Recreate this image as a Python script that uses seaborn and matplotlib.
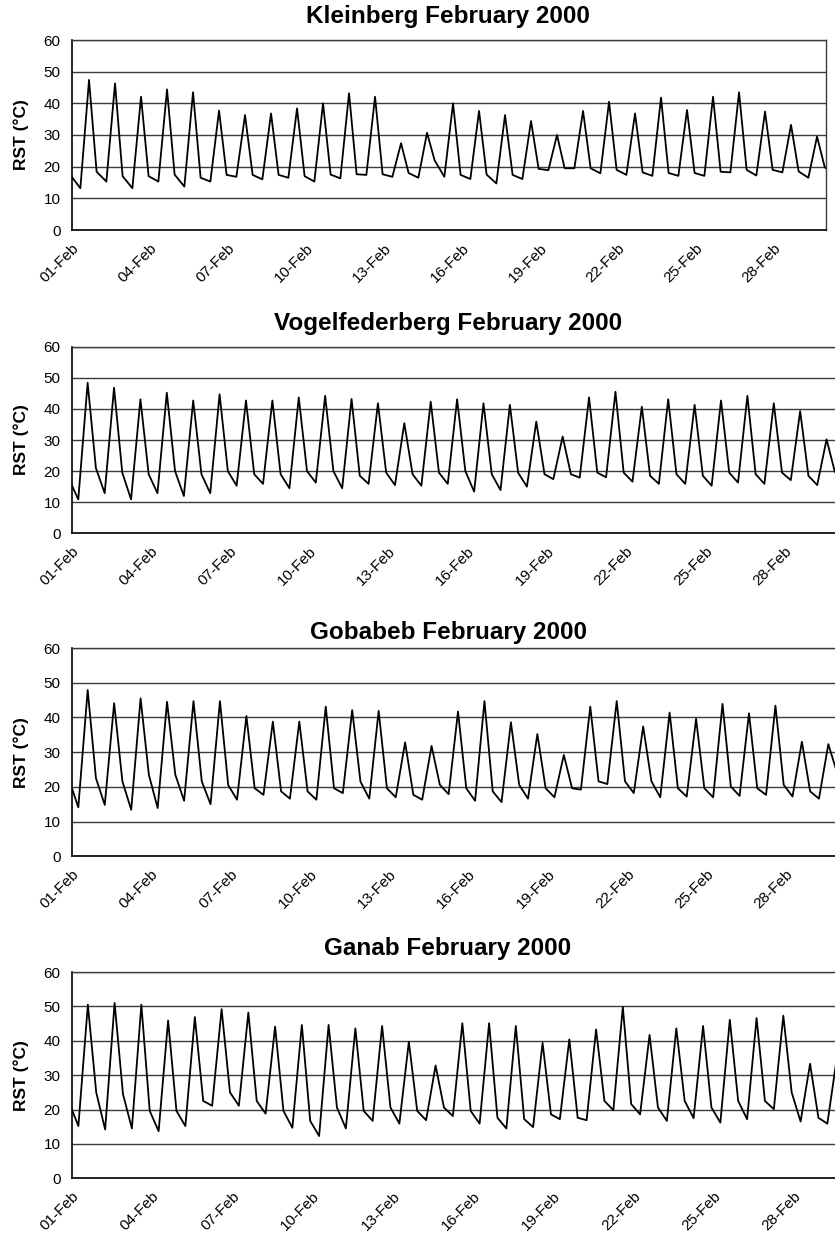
import numpy as np
import pandas as pd
import matplotlib
matplotlib.use("Agg")
import matplotlib.pyplot as plt
import matplotlib.dates as mdates
import seaborn as sns

# ---------------- data ----------------
sites = ["Kleinberg", "Vogelfederberg", "Gobabeb", "Ganab"]
tick_days = [1, 4, 7, 10, 13, 16, 19, 22, 25, 28]

# daily morning minimum, afternoon peak and late-evening value (deg C), 1..29 Feb 2000
kleinberg_min = [13.2, 15.3, 13.2, 15.3, 13.7, 15.3, 16.8, 16.0, 16.5, 15.3, 16.3, 17.4, 16.8, 16.5, 16.8,
                 16.1, 14.7, 16.1, 18.9, 19.5, 17.9, 17.4, 17.1, 17.1, 17.1, 18.2, 17.2, 18.2, 16.5]
kleinberg_peak = [47.4, 46.3, 42.1, 44.4, 43.5, 37.7, 36.3, 36.8, 38.4, 40.0, 43.2, 42.1, 27.4, 30.7, 40.0,
                  37.6, 36.3, 34.4, 30.0, 37.6, 40.5, 36.8, 41.8, 37.9, 42.1, 43.5, 37.4, 33.2, 29.5]
kleinberg_eve = [18.4, 17.0, 17.0, 17.5, 16.5, 17.4, 17.4, 17.4, 17.0, 17.5, 17.6, 17.6, 18.0, 22.0, 17.4,
                 17.5, 17.4, 19.3, 19.5, 19.5, 19.0, 18.2, 18.0, 18.0, 18.4, 19.0, 19.0, 18.5, 20.0]

vogel_min = [10.9, 12.9, 10.9, 12.9, 12.0, 12.9, 15.3, 15.9, 14.5, 16.3, 14.5, 15.9, 15.5, 15.3, 15.9,
             13.4, 13.9, 15.0, 17.4, 17.9, 18.0, 16.6, 15.9, 15.9, 15.3, 16.3, 15.9, 17.1, 15.5]
vogel_peak = [48.4, 46.8, 43.1, 45.2, 42.7, 44.7, 42.7, 42.7, 43.7, 44.2, 43.2, 41.8, 35.4, 42.3, 43.1,
              41.8, 41.3, 35.9, 31.1, 43.7, 45.5, 40.7, 43.1, 41.3, 42.7, 44.2, 41.8, 39.3, 30.2]
vogel_eve = [21.0, 19.5, 19.0, 20.0, 19.0, 20.0, 19.0, 19.0, 20.0, 20.0, 18.5, 19.5, 19.0, 19.5, 20.0,
             19.0, 19.5, 19.0, 19.0, 19.5, 19.5, 18.5, 19.0, 18.5, 19.5, 19.0, 19.5, 18.5, 19.8]

gobabeb_min = [14.1, 14.8, 13.4, 13.9, 16.0, 15.0, 16.3, 17.7, 16.6, 16.3, 18.2, 16.6, 17.0, 16.3, 17.9,
               16.0, 15.6, 16.6, 17.0, 19.2, 20.8, 18.2, 17.0, 17.2, 17.0, 17.4, 17.7, 17.2, 16.6]
gobabeb_peak = [47.9, 44.1, 45.5, 44.5, 44.7, 44.7, 40.4, 38.8, 38.8, 43.1, 42.1, 41.9, 32.8, 31.8, 41.7,
                44.7, 38.6, 35.2, 29.2, 43.1, 44.7, 37.4, 41.4, 39.6, 43.9, 41.2, 43.4, 33.0, 32.3]
gobabeb_eve = [22.5, 21.6, 23.5, 23.5, 21.6, 20.5, 19.6, 18.7, 18.7, 19.6, 21.5, 19.6, 17.7, 20.6, 19.6,
               18.7, 20.6, 19.6, 19.6, 21.6, 21.6, 21.6, 19.6, 19.6, 20.1, 19.6, 20.6, 18.7, 24.5]

ganab_min = [15.2, 14.2, 14.5, 13.7, 15.2, 21.1, 21.1, 18.8, 14.7, 12.3, 14.5, 16.7, 15.9, 16.9, 18.1,
             15.9, 14.5, 14.9, 17.2, 16.9, 19.8, 18.6, 16.7, 17.5, 16.2, 17.2, 20.1, 16.5, 15.9]
ganab_peak = [50.5, 51.0, 50.5, 45.9, 46.9, 49.2, 48.2, 44.1, 44.6, 44.6, 43.6, 44.3, 39.7, 32.8, 45.1,
              45.1, 44.3, 39.4, 40.4, 43.3, 49.8, 41.7, 43.6, 44.3, 46.1, 46.6, 47.3, 33.3, 35.0]
ganab_eve = [25.0, 24.5, 19.6, 19.6, 22.5, 25.0, 22.5, 19.6, 16.7, 20.6, 19.6, 20.6, 19.6, 20.6, 19.6,
             17.6, 17.2, 18.6, 17.6, 22.5, 21.6, 20.6, 22.5, 20.6, 22.5, 22.5, 25.0, 17.6, 20.0]

start_values = [16.8, 15.5, 19.8, 20.1]   # value at 00:00 on 01-Feb
end_values = [19.5, 19.0, 22.0, 19.0]     # value at 00:00 on 01-Mar

site_data = {
    "Kleinberg": (kleinberg_min, kleinberg_peak, kleinberg_eve),
    "Vogelfederberg": (vogel_min, vogel_peak, vogel_eve),
    "Gobabeb": (gobabeb_min, gobabeb_peak, gobabeb_eve),
    "Ganab": (ganab_min, ganab_peak, ganab_eve),
}
# hour of day of the three daily readings
site_hours = {
    "Kleinberg": (8.0, 16.0, 23.0),
    "Vogelfederberg": (6.0, 14.5, 22.0),
    "Gobabeb": (6.0, 14.5, 22.0),
    "Ganab": (6.0, 14.5, 22.0),
}

t0 = pd.Timestamp("2000-02-01")
t1 = pd.Timestamp("2000-03-01")


def build_frame(i, site):
    mins, peaks, eves = site_data[site]
    hmin, hpeak, heve = site_hours[site]
    times = [t0]
    vals = [start_values[i]]
    for d, (a, b, c) in enumerate(zip(mins, peaks, eves)):
        for h, v in ((hmin, a), (hpeak, b), (heve, c)):
            times.append(t0 + pd.Timedelta(days=d, hours=h))
            vals.append(v)
    times.append(t1)
    vals.append(end_values[i])
    return pd.DataFrame({"time": times, "RST": vals})


# ---------------- figure ----------------
sns.set_theme(style="white")
plt.rcParams["font.family"] = ["Liberation Sans", "DejaVu Sans"]
plt.rcParams["text.color"] = "black"
plt.rcParams["xtick.color"] = "black"
plt.rcParams["ytick.color"] = "black"
plt.rcParams["axes.labelcolor"] = "black"

W, H = 835, 1240
fig = plt.figure(figsize=(W / 100, H / 100), dpi=100)
fig.patch.set_facecolor("white")

# plot-area boxes in pixels: left, right, top(60), bottom(0)
boxes = [
    (71.7, 825.7, 40.0, 230.0),
    (71.7, 837.0, 346.7, 533.3),
    (71.7, 838.8, 648.0, 856.3),
    (71.7, 847.4, 972.0, 1178.3),
]
title_y = [17, 324, 632, 948]

for i, site in enumerate(sites):
    l, r, t, b = boxes[i]
    ax = fig.add_axes([l / W, 1 - b / H, (r - l) / W, (b - t) / H])
    df = build_frame(i, site)
    sns.lineplot(data=df, x="time", y="RST", ax=ax, color="black", linewidth=1.3)

    ax.set_xlim(t0, t1)
    ax.set_ylim(0, 60)
    ax.set_yticks(range(0, 61, 10))
    ax.yaxis.grid(True, color="#3c3c3c", linewidth=1.0)
    ax.xaxis.grid(False)
    ax.set_axisbelow(True)

    ticks = [pd.Timestamp(2000, 2, d) for d in tick_days]
    ax.set_xticks(ticks)
    ax.xaxis.set_major_formatter(mdates.DateFormatter("%d-%b"))
    ax.tick_params(axis="x", which="major", direction="out", length=6, width=1,
                   color="black", labelcolor="black", labelsize=11, pad=2)
    ax.tick_params(axis="y", which="major", direction="out", length=5, width=1,
                   color="black", labelcolor="black", labelsize=11, pad=3)
    for lab in ax.get_xticklabels():
        lab.set_rotation(45)
        lab.set_ha("right")
        lab.set_rotation_mode("anchor")

    ax.set_xlabel("")
    ax.set_ylabel("")
    for side in ("left", "bottom"):
        ax.spines[side].set_color("black")
        ax.spines[side].set_linewidth(1.2)
    for side in ("top", "right"):
        ax.spines[side].set_color("#3c3c3c")
        ax.spines[side].set_linewidth(1.0)
    ax.set_facecolor("white")

    fig.text(448 / W, 1 - title_y[i] / H, f"{site} February 2000", ha="center", va="center",
             fontsize=17.5, fontweight="bold", color="black")
    fig.text(21 / W, 1 - ((t + b) / 2) / H, "RST (°C)", rotation=90, ha="center", va="center",
             fontsize=12.5, fontweight="bold", color="black")

fig.savefig("out.png", dpi=100, facecolor="white")
